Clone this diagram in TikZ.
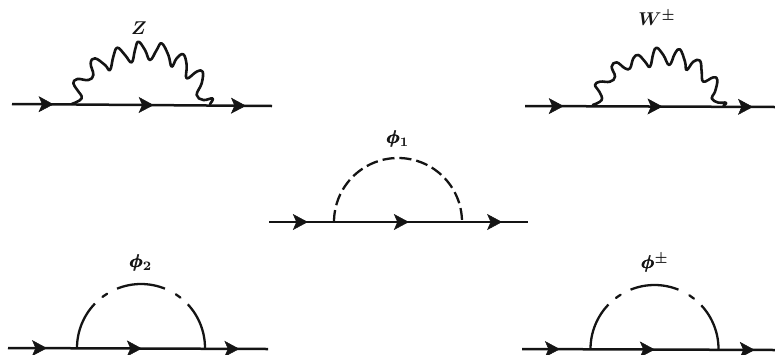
\documentclass[tikz,border=0pt]{standalone}
\usepackage{amsmath,bm,graphicx}
\usetikzlibrary{arrows.meta,decorations.markings}
\tikzset{
  fermion/.style n args={3}{line width=2.5pt,black!92,postaction={decorate},
    decoration={markings,
      mark=at position #1 with {\arrow[black!92,line width=0.5pt]{Stealth[length=15pt,width=16pt,inset=3.5pt]}},
      mark=at position #2 with {\arrow[black!92,line width=0.5pt]{Stealth[length=15pt,width=16pt,inset=3.5pt]}},
      mark=at position #3 with {\arrow[black!92,line width=0.5pt]{Stealth[length=15pt,width=16pt,inset=3.5pt]}}}},
  boson/.style={line width=2.6pt,black!92,line join=round,line cap=round},
  zoomed/.style={x=0.33333pt,y=-0.33333pt},
  scalar/.style={line width=2.3pt,black!92},
  dashline/.style={scalar,dash pattern=on 12pt off 5pt},
  plabel/.style={inner sep=0pt,black!92}
}
\newcommand{\dashdotarc}[2]{%
  \draw[scalar] (#1) ++(-180:#2) arc[start angle=-180,end angle=-136,radius=#2];
  \draw[scalar,line cap=round] (#1) ++(-127:#2) arc[start angle=-127,end angle=-122,radius=#2];
  \draw[scalar] (#1) ++(-112:#2) arc[start angle=-112,end angle=-68,radius=#2];
  \draw[scalar,line cap=round] (#1) ++(-57:#2) arc[start angle=-57,end angle=-52,radius=#2];
  \draw[scalar] (#1) ++(-43:#2) arc[start angle=-43,end angle=0,radius=#2];
}
\newcommand{\biglabel}[1]{\scalebox{1.85}{#1}}
\newcommand{\fatphi}{\pmb{\bm{\phi}}}
\begin{document}
\begin{tikzpicture}[x=1pt,y=-1pt]
\useasboundingbox (0,0) rectangle (775,354);
% Z
\coordinate (a1) at (12,104); \coordinate (b1) at (272,106);
\draw[fermion={0.16}{0.545}{0.9}] (a1) -- (b1);
\begin{scope}[zoomed]
\draw[boson] plot[smooth,tension=0.7] coordinates {(215,312) (245,295) (232,270) (220,250) (232,237) (265,240) (280,225) (272,190) (285,175) (315,195) (330,210) (340,170) (352,143) (375,165) (395,187) (405,150) (415,125) (435,150) (450,180) (470,150) (485,130) (505,165) (515,200) (530,175) (550,163) (560,195) (560,235) (590,215) (608,215) (605,250) (590,285) (610,300) (638,295) (630,312)};
\end{scope}
\node[plabel] (z) at (139,28) {\biglabel{$\bm{Z}$}};
% W
\coordinate (a2) at (525,106); \coordinate (b2) at (775,107);
\draw[fermion={0.155}{0.55}{0.912}] (a2) -- (b2);
\begin{scope}[zoomed,xshift=510pt]
\draw[boson] plot[smooth,tension=0.7] coordinates {(248,315) (275,300) (268,275) (255,255) (270,245) (300,245) (315,230) (305,200) (320,187) (345,205) (360,205) (370,175) (385,165) (405,185) (420,200) (430,160) (440,143) (460,165) (478,195) (495,160) (510,148) (525,185) (530,210) (550,185) (570,182) (575,215) (580,245) (610,232) (622,240) (615,275) (605,295) (625,308) (648,308) (640,318)};
\end{scope}
\node[plabel] (w) at (657,18) {\biglabel{$\bm{W}^{\bm{\pm}}$}};
% phi1
\coordinate (a3) at (269,222); \coordinate (b3) at (528,222);
\coordinate (u3) at (334,222);
\draw[fermion={0.15}{0.54}{0.9}] (a3) -- (b3);
\draw[dashline] (u3) arc[start angle=-180,end angle=0,radius=64];
\node[plabel] (p1) at (398,139) {\biglabel{$\fatphi_{\bm{1}}$}};
% phi2
\coordinate (a4) at (8,348); \coordinate (b4) at (268,349);
\coordinate (c4) at (141,348);
\draw[fermion={0.15}{0.515}{0.89}] (a4) -- (b4);
\dashdotarc{c4}{64}
\node[plabel] (p2) at (141,263) {\biglabel{$\fatphi_{\bm{2}}$}};
% phi+-
\coordinate (a5) at (522,349); \coordinate (b5) at (775,350);
\coordinate (c5) at (654.5,349);
\draw[fermion={0.15}{0.525}{0.92}] (a5) -- (b5);
\dashdotarc{c5}{64}
\node[plabel] (p3) at (655,263) {\biglabel{$\fatphi^{\bm{\pm}}$}};
\end{tikzpicture}
\end{document}
